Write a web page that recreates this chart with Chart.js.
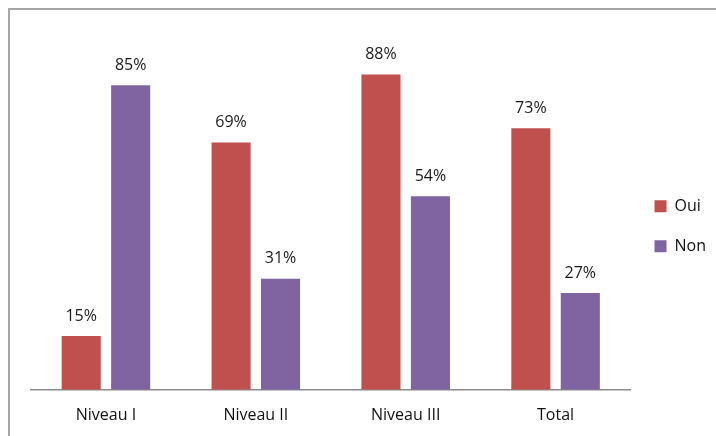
<!DOCTYPE html>
<html>
<head>
<meta charset="utf-8">
<script src="https://cdn.jsdelivr.net/npm/chart.js@4"></script>
<style>
  body { margin: 0; background: #fff; }
  #wrap { position: relative; width: 716px; height: 436px; }
  #frame { position: absolute; left: 8px; top: 8px; width: 720px; height: 440px;
           border-top: 2px solid #a6a6a6; border-left: 2px solid #a6a6a6; box-sizing: border-box; }
  canvas { position: absolute; left: 0; top: 0; }
</style>
</head>
<body>
<div id="wrap">
  <div id="frame"></div>
  <canvas id="chart" width="716" height="436"></canvas>
</div>
<script>
// values
let categories = ['Niveau I', 'Niveau II', 'Niveau III', 'Total'];
let oui = [15, 69, 88, 73];
let non = [85, 31, 54, 27];

let fontFamily = '"Open Sans", Lato, sans-serif';

// percent labels above each bar
let barLabels = {
    id: 'barLabels',
    afterLayout(chart) {
        // legend sits a little above the middle in the original
        chart.legend.top -= 6;
        chart.legend.bottom -= 6;
    },
    afterDatasetsDraw(chart) {
        let ctx = chart.ctx;
        ctx.save();
        ctx.font = '16px ' + fontFamily;
        ctx.fillStyle = '#1a1a1a';
        ctx.textAlign = 'center';
        ctx.textBaseline = 'middle';
        chart.data.datasets.forEach((ds, i) => {
            chart.getDatasetMeta(i).data.forEach((bar, j) => {
                ctx.fillText(ds.data[j] + '%', bar.x, bar.y - 20);
            });
        });
        ctx.restore();
    }
};

let chartElement = document.getElementById('chart').getContext('2d');

let chart = new Chart(chartElement, {
    type: 'bar',
    data: {
        labels: categories,
        datasets: [
            { label: 'Oui', data: oui, backgroundColor: '#C0504D' },
            { label: 'Non', data: non, backgroundColor: '#8064A2' }
        ]
    },
    options: {
        responsive: false,
        animation: false,
        categoryPercentage: 0.66,
        barPercentage: 0.79,
        layout: { padding: { left: 31, top: 31.5, right: 0, bottom: 3 } },
        scales: {
            x: {
                grid: { display: false },
                border: { display: true, color: '#8c8c8c', width: 1.5 },
                ticks: { color: '#111', font: { family: fontFamily, size: 16 }, padding: 8 }
            },
            y: { display: false, min: 0, max: 100 }
        },
        plugins: {
            legend: {
                position: 'right',
                labels: {
                    boxWidth: 12, boxHeight: 12, padding: 24, color: '#111',
                    font: { family: fontFamily, size: 16 }
                }
            },
            tooltip: { enabled: false }
        }
    },
    plugins: [barLabels]
});
</script>
</body>
</html>
